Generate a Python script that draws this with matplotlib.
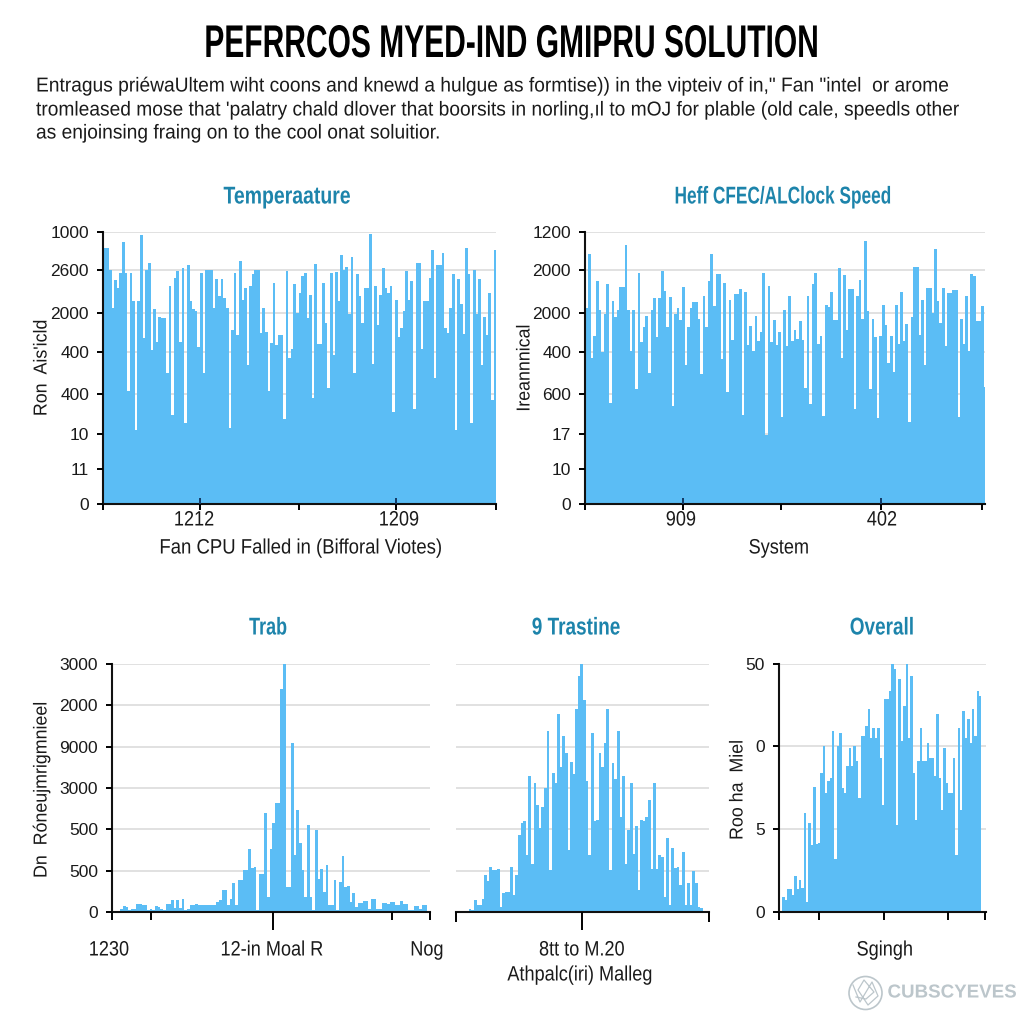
import matplotlib
matplotlib.use('Agg')
import matplotlib.pyplot as plt
from matplotlib.lines import Line2D
from matplotlib.patches import Circle
from matplotlib.patheffects import AbstractPathEffect
from matplotlib.transforms import Affine2D

plt.rcParams['font.family'] = ['Liberation Sans']

BLUE = '#5bbdf5'
GRID = '#d9d9d9'
TEAL = '#1d84ab'

temp = [942,942,862,720,825,794,850,963,850,416,850,745,273,745,988,610,862,887,566,717,594,687,683,683,480,800,326,831,856,594,868,299,877,745,717,708,579,850,480,860,860,860,720,828,764,828,757,720,281,640,850,622,893,751,794,511,800,844,860,860,628,720,634,416,591,813,585,622,622,314,856,535,569,810,702,776,840,850,683,770,388,883,589,589,813,665,425,850,548,852,745,914,862,872,700,908,483,847,764,665,794,794,991,515,800,659,770,868,794,776,800,339,749,613,647,708,856,751,821,351,887,887,569,745,745,830,933,465,877,877,921,647,630,720,844,271,828,736,625,942,844,299,862,700,828,511,687,622,776,382,933]
clock = [720,920,536,616,821,714,560,700,809,372,745,687,714,797,797,952,714,563,714,422,850,597,650,690,483,712,757,613,757,856,782,650,761,361,700,720,677,796,511,649,720,741,741,680,478,766,650,821,920,727,847,847,533,813,412,749,603,772,772,791,329,780,585,653,563,693,601,634,850,252,803,594,677,585,634,320,714,582,766,601,640,606,671,603,425,766,367,810,850,589,616,324,733,724,780,677,677,868,536,841,640,792,792,351,764,825,680,967,708,421,680,613,317,616,730,659,517,616,486,733,589,778,601,663,302,687,872,872,622,751,511,794,794,702,938,745,665,794,581,776,776,788,788,320,680,589,766,563,846,837,674,674,729,431,745,745,788,887,665]
trab = [1.3,2.3,2.0,1.0,1.3,1.3,3.4,3.1,3.0,3.0,1.0,1.3,0.7,2.4,2.0,1.2,0.7,3.4,3.4,4.7,1.5,5.0,1.5,5.4,0.7,1.3,2.7,2.7,3.4,3.0,2.7,2.7,2.7,2.8,2.8,2.8,4.0,4.7,9.0,9.0,2.7,5.4,11.7,2.7,12.8,12.8,17.0,17.0,25.6,17.8,18.0,0.7,15.5,15.5,40.0,6.0,25.6,36.0,44.0,44.0,90.0,100.0,10.0,10.0,68.0,23.0,41.0,28.0,17.0,6.0,35.0,6.0,0.7,33.0,13.5,17.5,8.0,19.0,2.7,2.7,12.8,0.7,12.0,22.6,10.0,10.4,4.0,7.8,2.0,3.7,3.7,4.4,4.4,1.3,5.4,5.4,1.3,1.3,3.7,3.7,3.4,3.9,3.9,2.7,2.7,4.3,3.4,3.4,0.7,1.0,2.3,2.3,1.2,2.7,2.7]
trastine = [1.3,0.9,5.0,2.7,2.7,5.4,15.0,12.6,18.0,16.8,16.8,17.5,2.0,7.7,8.0,8.0,18.0,6.7,15.0,31.0,36.0,36.7,23.0,55.0,19.5,52.0,43.0,34.0,42.5,50.0,73.0,17.0,56.0,52.0,80.0,58.5,71.0,64.0,25.0,60.5,55.5,82.0,95.0,100.0,85.5,53.0,23.0,72.0,36.7,37.0,64.0,58.5,68.0,82.0,17.0,60.0,53.8,73.0,38.3,55.0,19.5,32.9,52.0,23.3,34.6,9.0,37.0,36.7,38.3,45.0,17.5,52.0,17.5,23.0,22.0,6.0,30.0,2.7,26.0,17.8,18.0,11.0,24.0,2.7,11.7,2.7,16.5,11.5,2.0,1.8]
overall = [6,5,9.4,9.4,6.7,14.5,9.4,12.8,9.8,40,4,36,27,50.5,27.6,28,56,67,48,53,54,73,21.5,67,72,50,48,59,66,59,67,61,46,71,71,75,82,70,74,70,74,62,43,86,86,89,100,98,35,94,69,83,100,70,95,56,37,61,74,61,61,68,62,62,55,80,54,41,66,52,48,48,62,23,74,41,81,70,78,68,82,71,89,87]

# no condensed font is installed, so squeeze the text outlines at draw time
class Squeeze(AbstractPathEffect):
    def __init__(self, fx, x=None, y=None):
        super().__init__()
        if y is None:
            self.extra = Affine2D().translate(-x, 0).scale(fx, 1).translate(x, 0)
        else:
            self.extra = Affine2D().translate(0, -y).scale(1, fx).translate(0, y)

    def draw_path(self, renderer, gc, tpath, affine, rgbFace=None):
        renderer.draw_path(gc, tpath, affine + self.extra, rgbFace)

# axes boxes in pixels, left, top, right, bottom
def box(l, t, r, b):
    return [l / 1024, 1 - b / 1024, (r - l) / 1024, (b - t) / 1024]

fig = plt.figure(figsize=(10.24, 10.24), dpi=100, facecolor='white')

def t(x, y, s, size=15, fx=0.87, **kw):
    txt = fig.text(x / 1024, 1 - y / 1024, s, ha=kw.pop('ha', 'center'), va='center', fontsize=size, color=kw.pop('color', '#1a1a1a'), **kw)
    if txt.get_rotation() == 90:
        txt.set_path_effects([Squeeze(fx, y=1024 - y)])
    else:
        txt.set_path_effects([Squeeze(fx, x=x)])
    return txt

def panel(rect, values, first, step, xlim, ylim, yticks, ylabels, xticks, tick_len, title, title_x, title_fx):
    ax = fig.add_axes(rect)
    ax.bar([first + i * step for i in range(len(values))], values, width=step * 1.02, color=BLUE, linewidth=0, zorder=2)
    ax.set_xlim(*xlim)
    ax.set_ylim(*ylim)
    ax.hlines(yticks, xlim[0], xlim[1], color=GRID, linewidth=1.1, zorder=1)
    ax.set_axisbelow(False)
    for s in ['top', 'right']:
        ax.spines[s].set_visible(False)
    for s in ['left', 'bottom']:
        ax.spines[s].set_linewidth(1.5)
        ax.spines[s].set_color('#111111')
    ax.set_yticks(yticks)
    ax.set_yticklabels(ylabels)
    ax.set_xticks(xticks)
    ax.set_xticklabels([''] * len(xticks))
    ax.tick_params(axis='y', width=1.4, length=4, labelsize=12.5, pad=6, labelcolor='#1a1a1a')
    ax.tick_params(axis='x', width=1.4, length=tick_len)
    return ax

top_ticks = [0, 129, 257, 406, 557, 704, 862, 1000]
low_ticks = [0, 16.7, 33.3, 50, 66.7, 83.3, 100]

# top row
ax1 = panel(box(103, 232, 496, 504), temp, 105, 2.6, (103, 496), (0, 1000), top_ticks,
            ['0', '11', '10', '400', '400', '2000', '2600', '1000'],
            [103, 200, 299, 396, 496], 4.5, 'Temperaature', 287, 0.8)
ax2 = panel(box(585, 232, 985, 504), clock, 587, 2.6, (585, 985), (0, 1000), top_ticks,
            ['0', '10', '17', '600', '400', '2000', '2000', '1200'],
            [585, 683, 781, 881, 982], 4.5, 'Heff CFEC/ALClock Speed', 783, 0.71)
# inner ticks of the top panels reach up into the bars
ax1.vlines([200, 396], 0, 22, color='#123a66', linewidth=1.4, zorder=3)
ax2.vlines([683, 881], 0, 22, color='#123a66', linewidth=1.4, zorder=3)

# bottom row
ax3 = panel(box(112, 664, 430, 912), trab, 121.7, 2.667, (112, 430), (0, 100), low_ticks,
            ['0', '500', '500', '3000', '9000', '2000', '3000'],
            [112, 151, 273, 392, 430], 6, 'Trab', 268, 0.74)
ax3.xaxis.get_major_ticks()[2].tick1line.set_markersize(13)

ax4 = panel(box(456, 664, 709, 912), trastine, 470, 2.6, (456, 709), (0, 100), low_ticks,
            [''] * 7, [456, 582, 709], 7, '9 Trastine', 576, 0.78)
ax4.spines['left'].set_visible(False)
ax4.tick_params(axis='y', length=0)
ax4.xaxis.get_major_ticks()[1].tick1line.set_markersize(13)

ax5 = panel(box(779, 664, 986, 912), overall, 783.5, 2.37, (779, 986), (0, 100), [0, 33.5, 67, 100],
            ['0', '5', '0', '50'], [779, 819, 884, 948, 985], 6, 'Overall', 882, 0.78)

for x, y, s, fx in [(287, 197, 'Temperaature', 0.8), (783, 197, 'Heff CFEC/ALClock Speed', 0.71),
                    (268, 628, 'Trab', 0.74), (576, 628, '9 Trastine', 0.78), (882, 628, 'Overall', 0.78)]:
    t(x, y, s, size=17.5, fx=fx, color=TEAL, fontweight='bold')

t(512, 45, 'PEFRRCOS MYED-IND GMIPRU SOLUTION', size=33, fx=0.654, fontweight='bold', color='black')
t(36, 86, 'Entragus priéwaUltem wiht coons and knewd a hulgue as formtise)) in the vipteiv of in," Fan "intel  or arome', size=14.5, fx=0.953, ha='left')
t(36, 110, "tromleased mose that 'palatry chald dlover that boorsits in norling,ıl to mOJ for plable (old cale, speedls other", size=14.5, fx=0.953, ha='left')
t(36, 133, 'as enjoinsing fraing on to the cool onat soluitior.', size=14.5, fx=0.953, ha='left')

t(194, 520, '1212')
t(399, 520, '1209')
t(681, 520, '909')
t(882, 520, '402')
t(301, 548, 'Fan CPU Falled in (Bifforal Viotes)', fx=0.89)
t(779, 548, 'System')
t(109, 950, '1230')
t(272, 950, '12-in Moal R')
t(427, 950, 'Nog')
t(582, 950, '8tt to M.20')
t(580, 975, 'Athpalc(iri) Malleg')
t(885, 950, 'Sgingh')

t(42, 368, "Ron  Ais'icld", size=13.5, fx=0.95, rotation=90)
t(525, 368, 'Ireannnical', size=13.5, fx=0.95, rotation=90)
t(42, 790, 'Dn  Róneujmrigmnieel', size=13.5, fx=0.95, rotation=90)
t(738, 790, 'Roo ha  Miel', size=13.5, fx=0.95, rotation=90)

# faint watermark, ring with a knot inside and the name
WM = '#bcc6cb'
fig.add_artist(Circle((865.5 / 1024, 1 - 993 / 1024), 16.5 / 1024, transform=fig.transFigure, fill=False, edgecolor=WM, linewidth=1.2))
knot_x = [853, 860, 872, 878, 868, 858, 864, 874, 866, 856]
knot_y = [985, 1002, 982, 996, 1005, 990, 980, 992, 999, 997]
fig.add_artist(Line2D([v / 1024 for v in knot_x], [1 - v / 1024 for v in knot_y], transform=fig.transFigure, color=WM, linewidth=0.9))
t(952, 993, 'CUBSCYEVES', size=13.5, fx=1.0, color=WM, fontweight='bold')

fig.savefig('out.png', dpi=100)
